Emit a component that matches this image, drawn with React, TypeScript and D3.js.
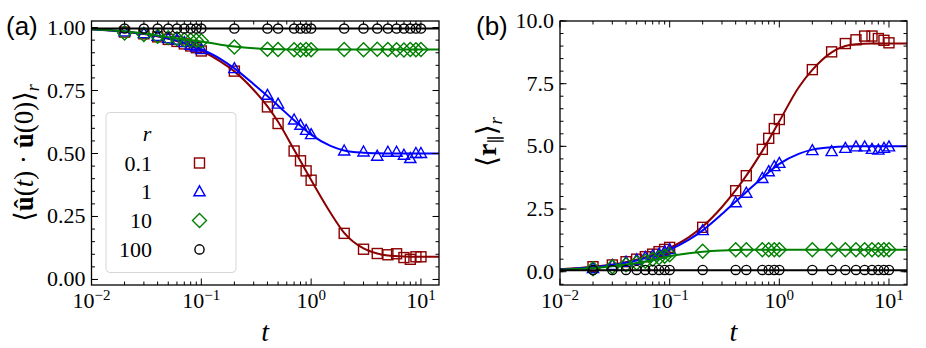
import React, { useEffect, useRef } from "react";
import * as d3 from "d3";

// sample times of the simulation points
const tData = [0.02, 0.03, 0.04, 0.05, 0.06, 0.07, 0.08, 0.09, 0.1, 0.2, 0.4, 0.5, 0.7, 0.8, 0.9, 1, 2, 3, 4, 5, 6, 7, 8, 9, 10];
const tFit = [0.01, 0.02, 0.03, 0.05, 0.07, 0.1, 0.15, 0.2, 0.3, 0.4, 0.5, 0.7, 1, 1.5, 2, 3, 4, 5, 7, 10, 14.6];

const rLabels = ["0.1", "1", "10", "100"];
const colors = ["#8b0000", "#0000ff", "#008000", "#000000"];
const shapes = ["square", "triangle", "diamond", "circle"];

// panel (a): <u(t).u(0)>_r
const uRed = [0.982, 0.975, 0.963, 0.953, 0.945, 0.935, 0.927, 0.92, 0.907, 0.827, 0.685, 0.619, 0.51, 0.471, 0.431, 0.394, 0.183, 0.12, 0.103, 0.098, 0.102, 0.087, 0.08, 0.09, 0.09];
const uBlue = [0.983, 0.976, 0.965, 0.956, 0.95, 0.94, 0.93, 0.923, 0.913, 0.837, 0.731, 0.696, 0.633, 0.612, 0.592, 0.575, 0.51, 0.506, 0.489, 0.505, 0.505, 0.493, 0.48, 0.5, 0.5];
const uGreen = [0.978, 0.972, 0.965, 0.96, 0.956, 0.952, 0.95, 0.949, 0.947, 0.923, 0.914, 0.913, 0.912, 0.911, 0.913, 0.912, 0.913, 0.912, 0.914, 0.913, 0.912, 0.911, 0.913, 0.912, 0.913];
const uBlack = [0.996, 0.996, 0.996, 0.996, 0.996, 0.996, 0.996, 0.996, 0.996, 0.996, 0.996, 0.996, 0.996, 0.996, 0.996, 0.996, 0.996, 0.996, 0.996, 0.996, 0.996, 0.996, 0.996, 0.996, 0.996];

const uRedFit = [0.993, 0.983, 0.974, 0.955, 0.936, 0.908, 0.865, 0.826, 0.752, 0.687, 0.626, 0.515, 0.395, 0.265, 0.185, 0.123, 0.103, 0.095, 0.091, 0.09, 0.09];
const uBlueFit = [0.993, 0.984, 0.976, 0.957, 0.94, 0.914, 0.875, 0.838, 0.775, 0.728, 0.69, 0.632, 0.575, 0.53, 0.512, 0.503, 0.501, 0.5, 0.5, 0.5, 0.5];
const uGreenFit = [0.993, 0.985, 0.976, 0.962, 0.953, 0.945, 0.932, 0.925, 0.918, 0.915, 0.914, 0.913, 0.913, 0.913, 0.913, 0.913, 0.913, 0.913, 0.913, 0.913, 0.913];
const uBlackFit = [0.996, 0.996, 0.996, 0.996, 0.996, 0.996, 0.996, 0.996, 0.996, 0.996, 0.996, 0.996, 0.996, 0.996, 0.996, 0.996, 0.996, 0.996, 0.996, 0.996, 0.996];

// panel (b): <r_par>_r
const rRed = [0.2, 0.27, 0.4, 0.5, 0.6, 0.7, 0.8, 0.89, 0.97, 1.77, 3.23, 3.83, 4.88, 5.32, 5.71, 6.07, 8.06, 8.77, 9.1, 9.25, 9.4, 9.4, 9.3, 9.23, 9.13];
const rBlue = [0.13, 0.25, 0.38, 0.47, 0.57, 0.63, 0.7, 0.8, 0.88, 1.64, 2.75, 3.13, 3.72, 3.99, 4.19, 4.32, 4.83, 4.79, 4.92, 4.98, 4.98, 4.88, 4.85, 4.92, 4.98];
const rGreen = [0.12, 0.2, 0.28, 0.35, 0.42, 0.5, 0.56, 0.62, 0.68, 0.82, 0.88, 0.88, 0.88, 0.88, 0.88, 0.88, 0.88, 0.88, 0.88, 0.88, 0.88, 0.88, 0.88, 0.88, 0.88];
const rBlack = [0.07, 0.07, 0.07, 0.07, 0.07, 0.07, 0.07, 0.07, 0.07, 0.07, 0.07, 0.07, 0.07, 0.07, 0.07, 0.07, 0.07, 0.07, 0.07, 0.07, 0.07, 0.07, 0.07, 0.07, 0.07];

const rRedFit = [0.1, 0.2, 0.29, 0.48, 0.67, 0.95, 1.38, 1.8, 2.58, 3.25, 3.83, 4.82, 6.0, 7.35, 8.05, 8.75, 9.0, 9.07, 9.1, 9.1, 9.1];
const rBlueFit = [0.09, 0.18, 0.27, 0.45, 0.63, 0.88, 1.28, 1.65, 2.3, 2.8, 3.18, 3.75, 4.3, 4.7, 4.87, 4.96, 4.99, 5.0, 5.0, 5.0, 5.0];
const rGreenFit = [0.08, 0.15, 0.22, 0.35, 0.46, 0.62, 0.74, 0.8, 0.85, 0.87, 0.875, 0.88, 0.88, 0.88, 0.88, 0.88, 0.88, 0.88, 0.88, 0.88, 0.88];
const rBlackFit = [0.06, 0.06, 0.06, 0.06, 0.06, 0.06, 0.06, 0.06, 0.06, 0.06, 0.06, 0.06, 0.06, 0.06, 0.06, 0.06, 0.06, 0.06, 0.06, 0.06, 0.06];

const uTicks = [0, 0.25, 0.5, 0.75, 1.0];
const rTicks = [0, 2.5, 5, 7.5, 10];
const xTicks = [-2, -1, 0, 1];

const serif = "'Liberation Serif', 'DejaVu Serif', serif";

function addMarker(g, shape, x, y, color) {
  const m = g.append(shape === "circle" ? "circle" : shape === "square" ? "rect" : "path");
  if (shape === "square") {
    m.attr("x", x - 5).attr("y", y - 5).attr("width", 10).attr("height", 10);
  } else if (shape === "circle") {
    m.attr("cx", x).attr("cy", y).attr("r", 4.6);
  } else if (shape === "triangle") {
    m.attr("d", `M${x},${y - 6}L${x + 5.6},${y + 4}L${x - 5.6},${y + 4}Z`);
  } else {
    m.attr("d", `M${x},${y - 7}L${x + 7},${y}L${x},${y + 7}L${x - 7},${y}Z`);
  }
  m.attr("fill", "none").attr("stroke", color).attr("stroke-width", 1.4);
}

function drawPanel(svg, p) {
  const { left, right, top, bottom } = p;
  const x = d3.scaleLog().domain([0.01, 14.6]).range([left, right]);
  const y = d3.scaleLinear().domain(p.yDomain).range([bottom, top]);

  const clipId = "clip-" + p.id;
  svg.append("clipPath").attr("id", clipId)
    .append("rect").attr("x", left).attr("y", top).attr("width", right - left).attr("height", bottom - top);

  const plot = svg.append("g").attr("clip-path", `url(#${clipId})`);
  const line = d3.line().x((d) => x(d[0])).y((d) => y(d[1])).curve(d3.curveMonotoneX);

  p.series.forEach((s, i) => {
    plot.append("path")
      .attr("d", line(tFit.map((t, j) => [t, s.fit[j]])))
      .attr("fill", "none")
      .attr("stroke", colors[i])
      .attr("stroke-width", 2);
    tData.forEach((t, j) => addMarker(plot, shapes[i], x(t), y(s.pts[j]), colors[i]));
  });

  // ticks, all inward on four sides
  const ax = svg.append("g").attr("stroke", "#000").attr("stroke-width", 1);
  const minorY = d3.range(p.yDomain[0] - (p.yDomain[0] % p.minor), p.yDomain[1] + 1e-9, p.minor)
    .filter((v) => v >= p.yDomain[0] && v <= p.yDomain[1]);
  minorY.forEach((v) => {
    const yy = y(v);
    ax.append("line").attr("x1", left).attr("x2", left + 3.5).attr("y1", yy).attr("y2", yy);
    ax.append("line").attr("x1", right).attr("x2", right - 3.5).attr("y1", yy).attr("y2", yy);
  });
  p.yTicks.forEach((v) => {
    const yy = y(v);
    ax.append("line").attr("x1", left).attr("x2", left + 6.5).attr("y1", yy).attr("y2", yy);
    ax.append("line").attr("x1", right).attr("x2", right - 6.5).attr("y1", yy).attr("y2", yy);
    svg.append("text").attr("x", left - 6).attr("y", yy + 7)
      .attr("text-anchor", "end").attr("font-family", serif).attr("font-size", 22)
      .text(p.fmt(v));
  });
  for (let e = -2; e <= 1; e++) {
    for (let k = 2; k <= 9; k++) {
      const v = k * Math.pow(10, e);
      if (v > 14.6) continue;
      const xx = x(v);
      ax.append("line").attr("x1", xx).attr("x2", xx).attr("y1", bottom).attr("y2", bottom - 3.5);
      ax.append("line").attr("x1", xx).attr("x2", xx).attr("y1", top).attr("y2", top + 3.5);
    }
  }
  xTicks.forEach((e) => {
    const xx = x(Math.pow(10, e));
    ax.append("line").attr("x1", xx).attr("x2", xx).attr("y1", bottom).attr("y2", bottom - 6.5);
    ax.append("line").attr("x1", xx).attr("x2", xx).attr("y1", top).attr("y2", top + 6.5);
    const tx = svg.append("text").attr("x", xx).attr("y", 308)
      .attr("text-anchor", "middle").attr("font-family", serif).attr("font-size", 22);
    tx.append("tspan").text("10");
    tx.append("tspan").attr("dy", -8).attr("font-size", 15).text(e < 0 ? "\u2212" + -e : String(e));
  });

  svg.append("rect").attr("x", left).attr("y", top).attr("width", right - left).attr("height", bottom - top)
    .attr("fill", "none").attr("stroke", "#000").attr("stroke-width", 1.3);

  // x label
  svg.append("text").attr("x", (left + right) / 2).attr("y", 341)
    .attr("text-anchor", "middle").attr("font-family", serif).attr("font-style", "italic").attr("font-size", 28)
    .text("t");

  // panel letter
  svg.append("text").attr("x", p.letterX).attr("y", 35)
    .attr("font-family", "'Liberation Sans', Arial, sans-serif").attr("font-size", 26)
    .text(p.letter);
}

function App() {
  const ref = useRef(null);

  useEffect(() => {
    const svg = d3.select(ref.current);
    svg.selectAll("*").remove();

    drawPanel(svg, {
      id: "a", left: 91.5, right: 439, top: 21, bottom: 285,
      yDomain: [-0.022, 1.026], yTicks: uTicks, minor: 0.05,
      fmt: d3.format(".2f"), letter: "(a)", letterX: 6,
      series: [
        { pts: uRed, fit: uRedFit },
        { pts: uBlue, fit: uBlueFit },
        { pts: uGreen, fit: uGreenFit },
        { pts: uBlack, fit: uBlackFit },
      ],
    });
    drawPanel(svg, {
      id: "b", left: 560, right: 907, top: 21, bottom: 285,
      yDomain: [-0.53, 10.0], yTicks: rTicks, minor: 0.5,
      fmt: d3.format(".1f"), letter: "(b)", letterX: 476,
      series: [
        { pts: rRed, fit: rRedFit },
        { pts: rBlue, fit: rBlueFit },
        { pts: rGreen, fit: rGreenFit },
        { pts: rBlack, fit: rBlackFit },
      ],
    });

    // y label (a)
    const la = svg.append("text")
      .attr("transform", "translate(33,153) rotate(-90)")
      .attr("text-anchor", "middle").attr("font-family", serif).attr("font-size", 27);
    la.append("tspan").text("\u27E8");
    la.append("tspan").attr("font-weight", "bold").text("\u00FB");
    la.append("tspan").text("(");
    la.append("tspan").attr("font-style", "italic").text("t");
    la.append("tspan").text(") \u00B7 ");
    la.append("tspan").attr("font-weight", "bold").text("\u00FB");
    la.append("tspan").text("(0)\u27E9");
    la.append("tspan").attr("font-style", "italic").attr("font-size", 18).attr("dy", 6).text("r");

    // y label (b)
    const lb = svg.append("text")
      .attr("transform", "translate(496,142) rotate(-90)")
      .attr("text-anchor", "middle").attr("font-family", serif).attr("font-size", 28);
    lb.append("tspan").text("\u27E8");
    lb.append("tspan").attr("font-weight", "bold").text("r");
    lb.append("tspan").attr("font-size", 18).attr("dy", 6).text("\u2225");
    lb.append("tspan").attr("dy", -6).text("\u27E9");
    lb.append("tspan").attr("font-style", "italic").attr("font-size", 19).attr("dy", 6).text("r");

    // legend
    const leg = svg.append("g");
    leg.append("rect").attr("x", 106).attr("y", 112.5).attr("width", 130).attr("height", 160)
      .attr("rx", 4).attr("fill", "#fff").attr("fill-opacity", 0.8)
      .attr("stroke", "#d6d6d6").attr("stroke-width", 1);
    leg.append("text").attr("x", 147).attr("y", 141).attr("text-anchor", "middle")
      .attr("font-family", serif).attr("font-style", "italic").attr("font-size", 22).text("r");
    rLabels.forEach((lab, i) => {
      const base = 170.5 + i * 28.8;
      leg.append("text").attr("x", 152).attr("y", base).attr("text-anchor", "end")
        .attr("font-family", serif).attr("font-size", 22).text(lab);
      addMarker(leg, shapes[i], 199.5, base - 7.5, colors[i]);
    });
  }, []);

  return (
    <svg
      ref={ref}
      width={926}
      height={348}
      style={{ position: "absolute", left: 0, top: 0, background: "#fff" }}
    />
  );
}

export default App;
